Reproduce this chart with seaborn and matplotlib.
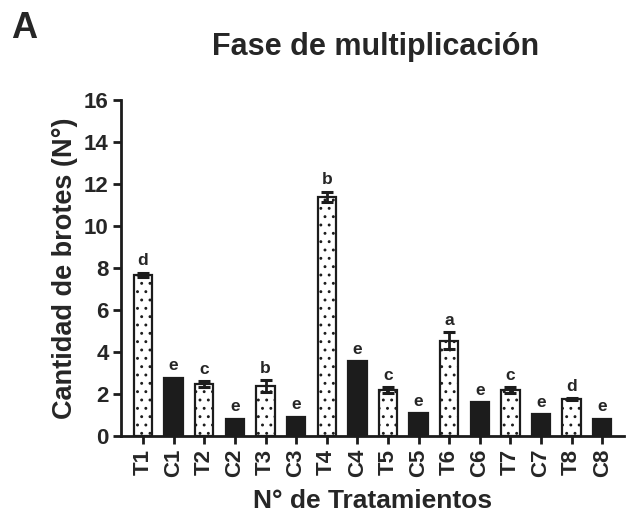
import pandas as pd
import seaborn as sns
import matplotlib.pyplot as plt
import numpy as np

# Data
tratamientos = ['T1', 'C1', 'T2', 'C2', 'T3', 'C3', 'T4', 'C4',
                'T5', 'C5', 'T6', 'C6', 'T7', 'C7', 'T8', 'C8']
brotes = [7.7, 2.8, 2.5, 0.85, 2.4, 0.95, 11.4, 3.6,
          2.2, 1.1, 4.55, 1.65, 2.2, 1.05, 1.78, 0.85]
error = [0.1, 0.0, 0.15, 0.0, 0.3, 0.0, 0.25, 0.0,
         0.15, 0.0, 0.4, 0.0, 0.15, 0.0, 0.05, 0.0]
letras = ['d', 'e', 'c', 'e', 'b', 'e', 'b', 'e',
          'c', 'e', 'a', 'e', 'c', 'e', 'd', 'e']

df = pd.DataFrame({'trat': tratamientos, 'brotes': brotes, 'err': error, 'letra': letras})
df['tipo'] = df['trat'].str[0]

sns.set_style('ticks')
plt.rcParams['font.family'] = ['Liberation Sans', 'DejaVu Sans']
plt.rcParams['font.weight'] = 'bold'
plt.rcParams['hatch.color'] = '#555555'
plt.rcParams['hatch.linewidth'] = 0.9

fig = plt.figure(figsize=(6.26, 5.19), dpi=100)
ax = fig.add_axes([0.1933, 0.159, 0.804, 0.648])

sns.barplot(data=df, x='trat', y='brotes', hue='tipo', dodge=False, legend=False,
            palette={'T': 'white', 'C': '#1c1c1c'}, width=0.6,
            edgecolor='#1c1c1c', linewidth=1.6, errorbar=None, ax=ax)

# dotted fill on the treatment bars
for bar in ax.patches:
    if bar.get_facecolor()[0] > 0.5:
        bar.set_hatch('..')

x = np.arange(len(df))
mask = df['err'] > 0
ax.errorbar(x[mask], df['brotes'][mask], yerr=df['err'][mask], fmt='none',
            ecolor='#1c1c1c', elinewidth=2, capsize=4.5, capthick=2.2)

for xi, (v, e, l) in enumerate(zip(df['brotes'], df['err'], df['letra'])):
    ax.text(xi, v + e + 0.2, l, ha='center', va='bottom', fontsize=12.5, fontweight='bold')

ax.set_ylim(0, 16)
ax.set_yticks(range(0, 17, 2))
ax.set_xlim(-0.72, 15.72)
ax.set_xticks(x)
ax.set_xticklabels(tratamientos, rotation=90)
ax.tick_params(axis='both', labelsize=16, width=2, length=6, color='#1c1c1c', pad=3)
for lab in ax.get_xticklabels() + ax.get_yticklabels():
    lab.set_fontweight('bold')
sns.despine(ax=ax)
for s in ['left', 'bottom']:
    ax.spines[s].set_linewidth(2)
    ax.spines[s].set_color('#1c1c1c')

ax.set_ylabel('Cantidad de brotes (N°)', fontsize=19.5, fontweight='bold', labelpad=4)
ax.set_xlabel('N° de Tratamientos', fontsize=19, fontweight='bold', labelpad=8)
fig.text(0.6, 0.91, 'Fase de multiplicación', ha='center', va='center',
         fontsize=22, fontweight='bold')
fig.text(0.018, 0.946, 'A', ha='left', va='center', fontsize=26, fontweight='bold')

fig.savefig('out.png', dpi=100)
